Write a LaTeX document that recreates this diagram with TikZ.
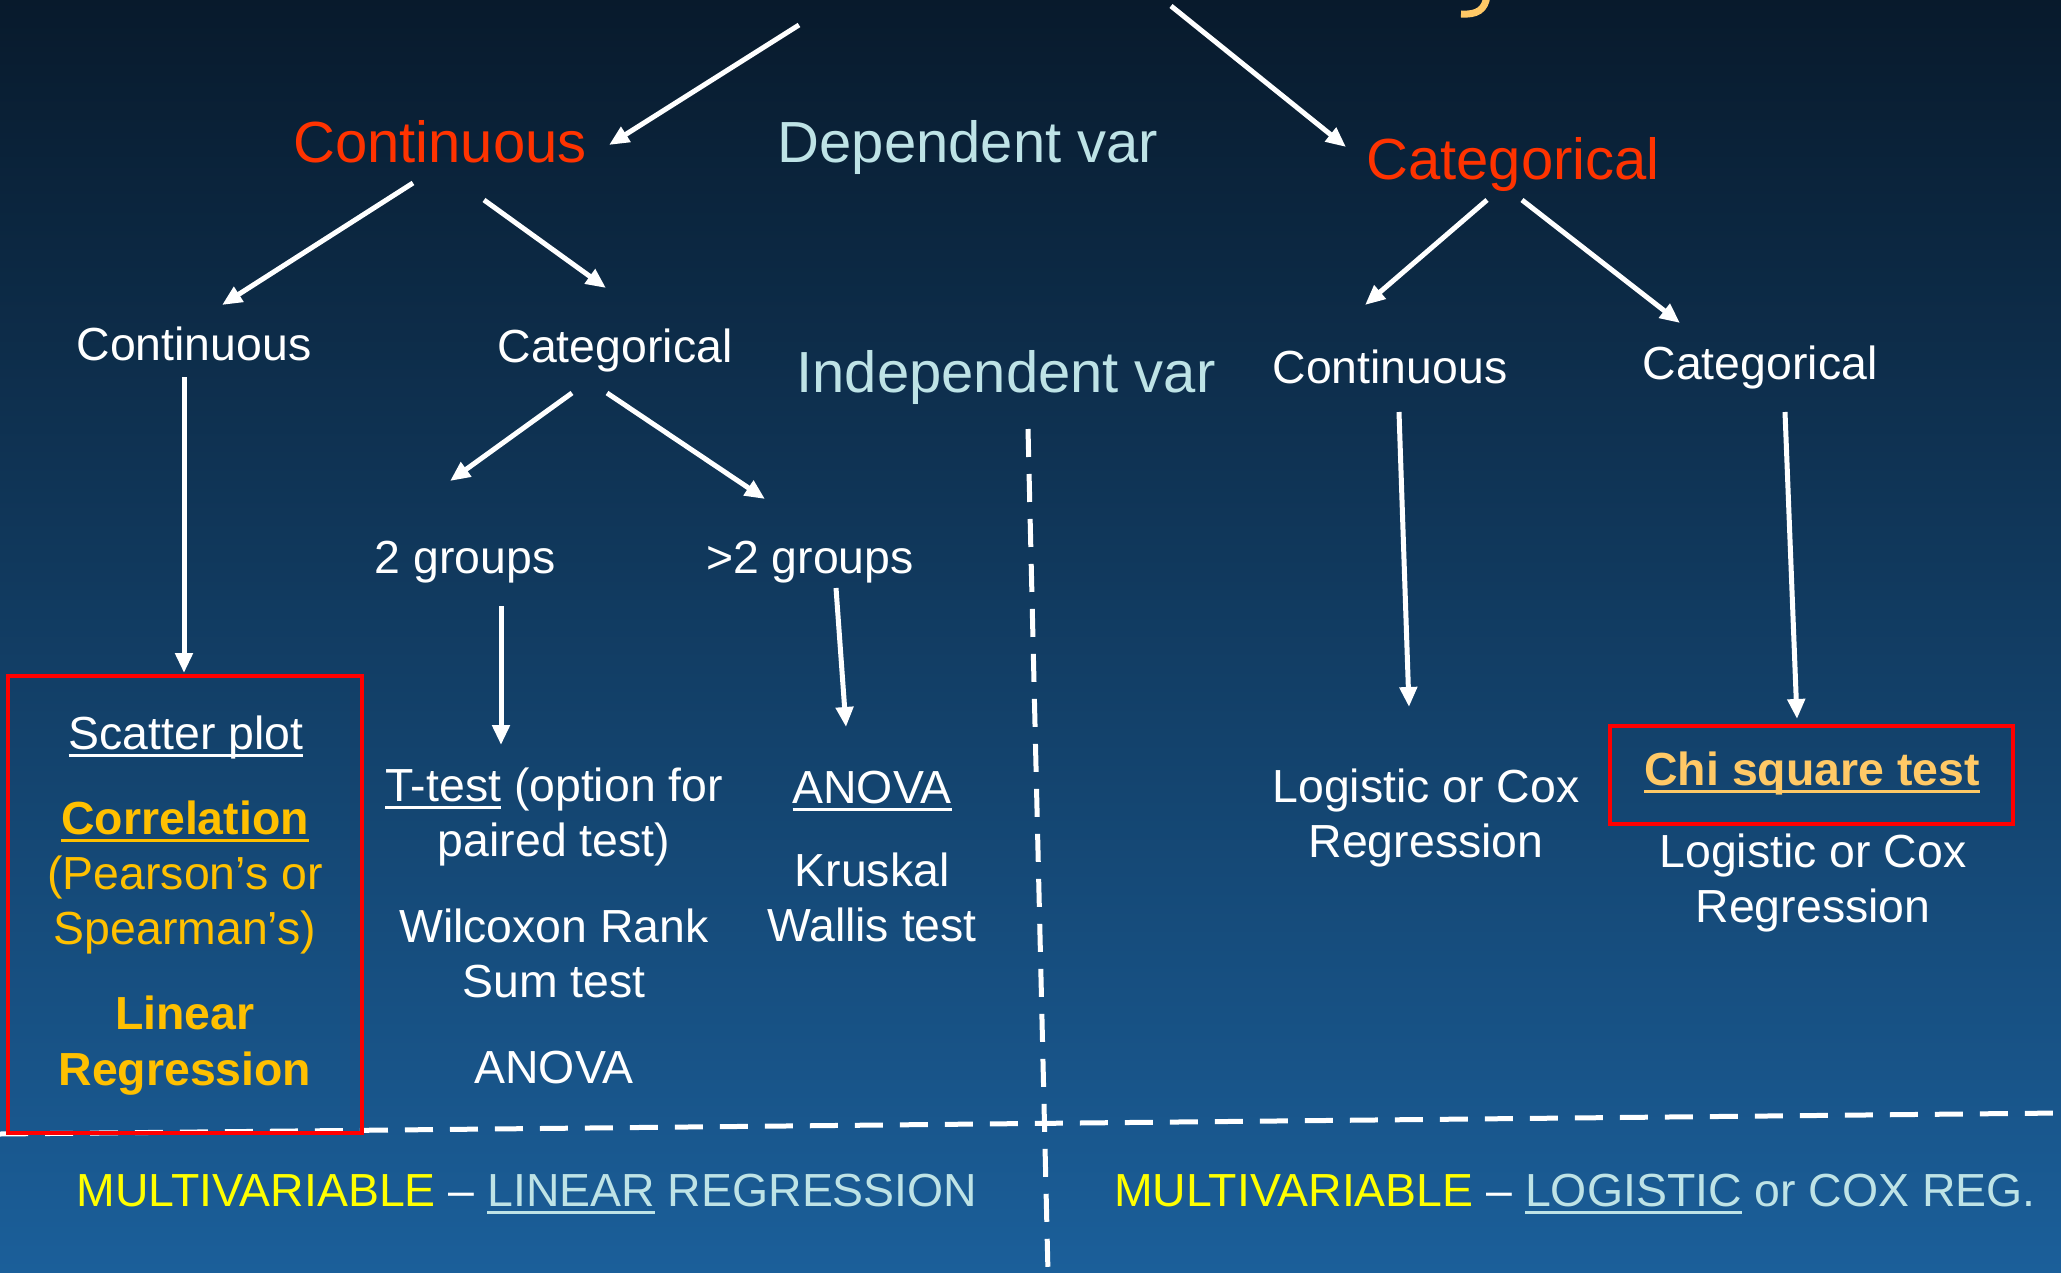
\documentclass[tikz,border=0pt]{standalone}
\usepackage{fontspec}
\setmainfont{Liberation Sans}
\usetikzlibrary{arrows.meta}
\definecolor{bgtop}{HTML}{081A2C}
\definecolor{bgmid}{HTML}{134877}
\definecolor{bgbot}{HTML}{1B5F9A}
\definecolor{redt}{HTML}{FF3300}
\definecolor{lcyan}{HTML}{BEE3E6}
\definecolor{orng}{HTML}{FFC000}
\definecolor{chio}{HTML}{FFC966}
\definecolor{yel}{HTML}{FFFF00}
\definecolor{boxred}{HTML}{FF0000}
\newsavebox\ulbox
\newcommand\myul[1]{\sbox\ulbox{#1}\leavevmode\rlap{\rule[-8pt]{\wd\ulbox}{3.5pt}}\usebox\ulbox}
\tikzset{
  bigt/.style={font=\fontsize{58}{68}\selectfont, inner sep=0pt, anchor=base},
  txt/.style={font=\fontsize{46.4}{55}\selectfont, inner sep=0pt, anchor=base, align=center, text=white},
  boldtxt/.style={txt, font=\fontsize{46.4}{56}\selectfont\bfseries},
  arr/.style={draw=white, line width=5pt, -{Triangle[length=20pt,width=17pt]}},
  dashline/.style={draw=white, line width=5pt, dash pattern=on 28pt off 17pt},
  redbox/.style={draw=boxred, line width=4pt},
}
\begin{document}
\begin{tikzpicture}[x=1pt,y=-1pt]
\useasboundingbox (0,0) rectangle (2061,1273);
\shade[top color=bgtop, middle color=bgmid, bottom color=bgbot] (0,0) rectangle (2061,1273);

% fragment of the cut-off title
\draw[chio, line width=7pt] (1487,-4) .. controls (1485,10) and (1477,15) .. (1461,14);

% dashed separators
\coordinate (hl) at (0,1134);
\coordinate (hr) at (2061,1113);
\coordinate (vt) at (1028,429);
\coordinate (vb) at (1048,1273);
\draw[dashline] (hl) -- (hr);
\draw[dashline] (vt) -- (vb);

% red boxes
\draw[redbox] (8,676) rectangle (362,1133);
\draw[redbox] (1610,726) rectangle (2013,824);

% texts (multi-line nodes are anchored at the baseline of their last line)
\node[bigt,text=redt] (contD) at (440,163) {Continuous};
\node[bigt,text=lcyan] (depv) at (968,163) {Dependent var};
\node[bigt,text=redt] (catD) at (1513,180) {Categorical};
\node[txt] (contA) at (194,360) {Continuous};
\node[txt] (catA) at (615,362) {Categorical};
\node[bigt,text=lcyan] (indv) at (1006,392) {Independent var};
\node[txt] (contB) at (1390,383) {Continuous};
\node[txt] (catB) at (1760,379) {Categorical};
\node[txt] (gtwo) at (465,573) {2 groups};
\node[txt] (gmore) at (810,573) {>2 groups};

\node[txt] (scat) at (186,749) {\myul{Scatter plot}};
\node[txt,text=orng] (corr) at (185,944) {{\bfseries\myul{Correlation}}\\(Pearson’s or\\Spearman’s)};
\node[boldtxt,text=orng] (linr) at (185,1085) {Linear\\Regression};

\node[txt] (ttest) at (554,856) {\myul{T-test} (option for\\paired test)};
\node[txt] (wilc) at (554,997) {Wilcoxon Rank\\Sum test};
\node[txt] (anovaA) at (554,1083) {ANOVA};

\node[txt] (anovaB) at (872,803) {\myul{ANOVA}};
\node[txt] (krus) at (872,941) {Kruskal\\Wallis test};

\node[txt] (logA) at (1426,857) {Logistic or Cox\\Regression};
\node[boldtxt,text=chio] (chi) at (1812,785) {\myul{Chi square test}};
\node[txt] (logB) at (1813,922) {Logistic or Cox\\Regression};

\node[txt] (multA) at (527,1206) {{\color{yel}MULTIVARIABLE} -- {\color{lcyan}\myul{LINEAR} REGRESSION}};
\node[txt] (multB) at (1575,1206) {{\color{yel}MULTIVARIABLE} -- {\color{lcyan}\myul{LOGISTIC} or COX REG.}};

% arrow end points
\coordinate (a1s) at (799,25);   \coordinate (a1e) at (609,145);
\coordinate (a2s) at (1171,6);   \coordinate (a2e) at (1346,147);
\coordinate (a3s) at (413,183);  \coordinate (a3e) at (222,305);
\coordinate (a4s) at (484,200);  \coordinate (a4e) at (606,288);
\coordinate (a5s) at (1487,200); \coordinate (a5e) at (1365,305);
\coordinate (a6s) at (1522,200); \coordinate (a6e) at (1680,323);
\coordinate (a7s) at (184,377);  \coordinate (a7e) at (184,673);
\coordinate (a8s) at (572,393);  \coordinate (a8e) at (450,481);
\coordinate (a9s) at (607,393);  \coordinate (a9e) at (765,499);
\coordinate (a10s) at (501,606); \coordinate (a10e) at (501,745);
\coordinate (a11s) at (836,588); \coordinate (a11e) at (846,727);
\coordinate (a12s) at (1399,412); \coordinate (a12e) at (1409,707);
\coordinate (a13s) at (1785,412); \coordinate (a13e) at (1797,719);

\foreach \i in {1,...,13} {\draw[arr] (a\i s) -- (a\i e);}
\end{tikzpicture}
\end{document}
